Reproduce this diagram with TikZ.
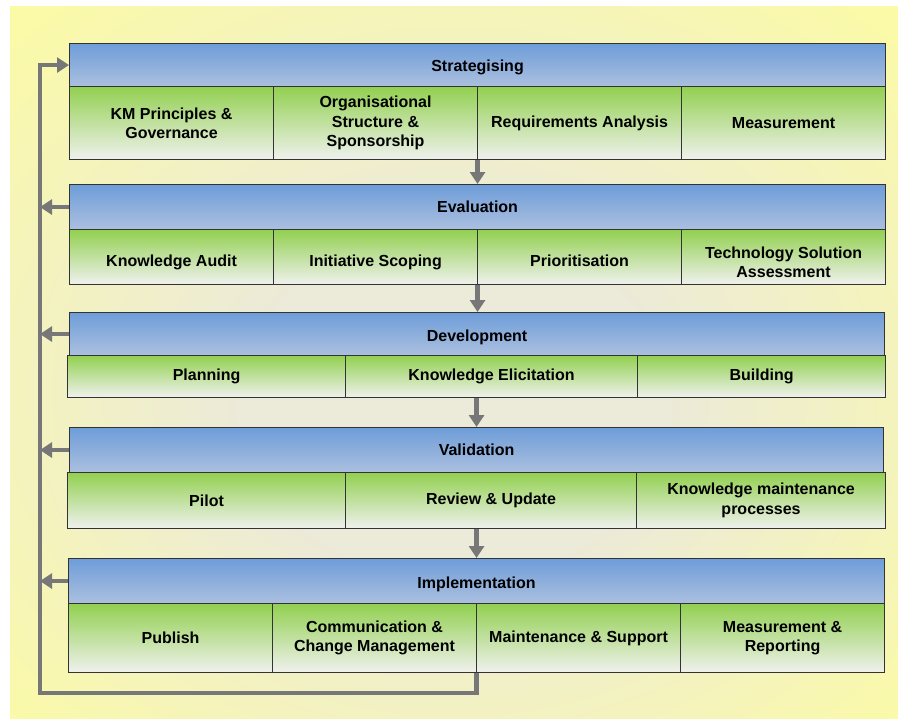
\documentclass[tikz,border=0pt]{standalone}
\usepackage{fontspec}
\setmainfont{Liberation Sans}
\usetikzlibrary{arrows.meta,fit}

\definecolor{bgyellow}{HTML}{FFFF99}
\definecolor{bgcentre}{HTML}{ECEAD8}
\definecolor{hdtop}{HTML}{6E9DD9}
\definecolor{hdbot}{HTML}{ACC0DF}
\definecolor{cltop}{HTML}{92D050}
\definecolor{clbot}{HTML}{F0F1EE}
\definecolor{flow}{HTML}{777777}
\definecolor{edge}{HTML}{333333}

\pgfdeclareradialshading{bgglow}{\pgfpoint{0bp}{-4bp}}{%
  color(0bp)=(bgcentre); color(12bp)=(bgcentre);
  color(42bp)=(bgyellow); color(50bp)=(bgyellow)}

\tikzset{
  box/.style={draw=edge, line width=1.1pt, anchor=north west, inner sep=0pt,
    align=center, text=black, font=\bfseries\fontsize{16}{19.5}\selectfont},
  header/.style={box, top color=hdtop, bottom color=hdbot},
  cell/.style={box, top color=cltop, bottom color=clbot},
  % pushes the label a little below the middle of its box
  sink/.style={text height=#1},
  rowfit/.style={inner sep=0pt, outer sep=0pt},
  flowline/.style={draw=flow, line width=4.5pt, line join=miter},
  flowarrow/.style={flowline, -{Triangle[length=12pt,width=15pt]}},
}

\begin{document}
\begin{tikzpicture}[x=1pt, y=-1pt]
  \useasboundingbox (0,0) rectangle (901,718);
  % yellow backdrop with a pale glow in the middle
  \shade[shading=bgglow] (10,6) rectangle (898,718);

  % --- Strategising
  \node[header, sink=15.6pt, minimum width=816pt, minimum height=43pt] (h1) at (69,43) {Strategising};
  \node[cell, minimum width=204pt, minimum height=73pt] (c11) at (69,86) {KM Principles \&\\Governance};
  \node[cell, minimum width=204pt, minimum height=73pt] (c12) at (273,86) {Organisational\\Structure \&\\Sponsorship};
  \node[cell, minimum width=204pt, minimum height=73pt] (c13) at (477,86) {Requirements Analysis};
  \node[cell, minimum width=204pt, minimum height=73pt] (c14) at (681,86) {Measurement};
  \node[rowfit, fit=(h1)(c11)(c14)] (row1) {};

  % --- Evaluation
  \node[header, minimum width=816pt, minimum height=45pt] (h2) at (69,184) {Evaluation};
  \node[cell, sink=23pt, text depth=3.5pt, minimum width=204pt, minimum height=55pt] (c21) at (69,229) {Knowledge Audit};
  \node[cell, sink=23pt, text depth=3.5pt, minimum width=204pt, minimum height=55pt] (c22) at (273,229) {Initiative Scoping};
  \node[cell, sink=23pt, text depth=3.5pt, minimum width=204pt, minimum height=55pt] (c23) at (477,229) {Prioritisation};
  \node[cell, sink=42pt, minimum width=204pt, minimum height=55pt] (c24) at (681,229) {Technology Solution\\Assessment};
  \node[rowfit, fit=(h2)(c21)(c24)] (row2) {};

  % --- Development
  \node[header, sink=17.6pt, minimum width=815pt, minimum height=43pt] (h3) at (69,312) {Development};
  \node[cell, minimum width=278pt, minimum height=42pt] (c31) at (67,355) {Planning};
  \node[cell, minimum width=292pt, minimum height=42pt] (c32) at (345,355) {Knowledge Elicitation};
  \node[cell, minimum width=248pt, minimum height=42pt] (c33) at (637,355) {Building};
  \node[rowfit, fit=(h3)(c31)(c33)] (row3) {};

  % --- Validation
  \node[header, minimum width=814pt, minimum height=45pt] (h4) at (69,427) {Validation};
  \node[cell, minimum width=278pt, minimum height=56pt] (c41) at (67,472) {Pilot};
  \node[cell, minimum width=291pt, minimum height=56pt] (c42) at (345,472) {Review \& Update};
  \node[cell, minimum width=249pt, minimum height=56pt] (c43) at (636,472) {Knowledge maintenance\\processes};
  \node[rowfit, fit=(h4)(c41)(c43)] (row4) {};

  % --- Implementation
  \node[header, sink=19pt, minimum width=816pt, minimum height=45pt] (h5) at (68,558) {Implementation};
  \node[cell, minimum width=204pt, minimum height=69pt] (c51) at (68,603) {Publish};
  \node[cell, minimum width=204pt, minimum height=69pt] (c52) at (272,603) {Communication \&\\Change Management};
  \node[cell, minimum width=204pt, minimum height=69pt] (c53) at (476,603) {Maintenance \& Support};
  \node[cell, minimum width=204pt, minimum height=69pt] (c54) at (680,603) {Measurement \&\\Reporting};
  \node[rowfit, fit=(h5)(c51)(c54)] (row5) {};

  % forward flow between the phases
  \draw[flowarrow] (row1.south) -- (row1.south |- h2.north);
  \draw[flowarrow] (row2.south) -- (row2.south |- h3.north);
  \draw[flowarrow] (row3.south) -- (row3.south |- h4.north);
  \draw[flowarrow] (row4.south) -- (row4.south |- h5.north);

  % feedback loop on the left
  \coordinate (loopcorner) at (40,693);
  \draw[flowarrow] (row5.south) |- (loopcorner) |- (h1.west);
  \draw[flowarrow] (h2.west) -- (h2.west -| loopcorner);
  \draw[flowarrow] (h3.west) -- (h3.west -| loopcorner);
  \draw[flowarrow] (h4.west) -- (h4.west -| loopcorner);
  \draw[flowarrow] (h5.west) -- (h5.west -| loopcorner);
\end{tikzpicture}
\end{document}
